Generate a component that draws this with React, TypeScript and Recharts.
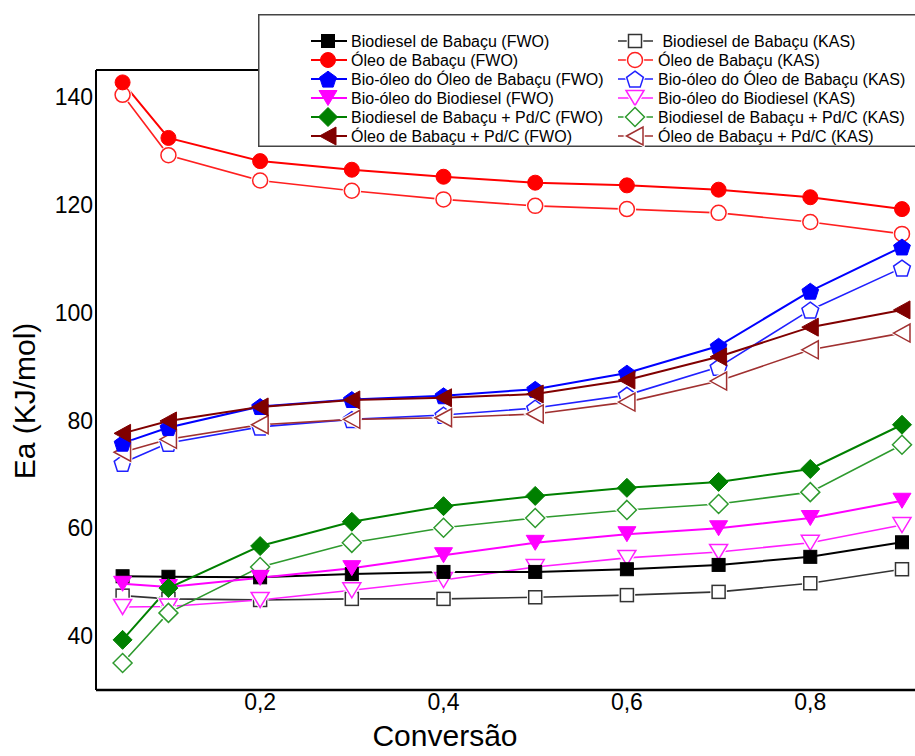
import React from 'react';
import { LineChart, Line, XAxis, YAxis, ReferenceLine, Legend, Label } from 'recharts';

const conversion = [0.05, 0.1, 0.2, 0.3, 0.4, 0.5, 0.6, 0.7, 0.8, 0.9];
const xTicks = [0.2, 0.4, 0.6, 0.8];
const yTicks = [40, 60, 80, 100, 120, 140];

const biodieselFWO = [51.1, 51.0, 50.9, 51.5, 51.9, 51.9, 52.4, 53.2, 54.7, 57.4];
const biodieselKAS = [47.5, 46.9, 46.7, 46.9, 46.9, 47.2, 47.6, 48.2, 49.8, 52.4];
const oleoFWO = [142.7, 132.4, 128.1, 126.5, 125.2, 124.1, 123.6, 122.8, 121.4, 119.2];
const oleoKAS = [140.4, 129.2, 124.5, 122.6, 121.0, 119.8, 119.2, 118.5, 116.8, 114.6];
const bioOleoOleoFWO = [75.8, 78.7, 82.6, 83.9, 84.6, 85.8, 88.8, 93.8, 104.0, 112.2];
const bioOleoOleoKAS = [72.1, 75.8, 78.8, 80.2, 81.0, 82.3, 84.7, 89.9, 100.5, 108.3];
const bioOleoBioFWO = [49.7, 49.1, 50.8, 52.6, 55.0, 57.3, 58.9, 60.0, 61.9, 65.1];
const bioOleoBioKAS = [45.4, 45.5, 46.7, 48.5, 50.4, 52.8, 54.5, 55.6, 57.3, 60.6];
const biodieselPdFWO = [39.3, 48.9, 56.7, 61.2, 64.1, 66.0, 67.5, 68.6, 71.0, 79.2];
const biodieselPdKAS = [35.0, 44.3, 52.8, 57.3, 60.1, 61.9, 63.4, 64.5, 66.7, 75.5];
const oleoPdFWO = [77.6, 79.9, 82.5, 83.8, 84.2, 84.9, 87.5, 91.8, 97.3, 100.5];
const oleoPdKAS = [74.1, 76.5, 79.2, 80.2, 80.5, 81.2, 83.4, 87.3, 93.1, 96.2];

type Shape = 'square' | 'circle' | 'pentagon' | 'triangleDown' | 'diamond' | 'triangleLeft';

interface Series {
  key: string;
  name: string;
  values: number[];
  color: string;
  shape: Shape;
  filled: boolean;
}

const fwoSeries: Series[] = [
  { key: 'bdFWO', name: 'Biodiesel de Babaçu (FWO)', values: biodieselFWO, color: '#000000', shape: 'square', filled: true },
  { key: 'olFWO', name: 'Óleo de Babaçu (FWO)', values: oleoFWO, color: '#FF0000', shape: 'circle', filled: true },
  { key: 'booFWO', name: 'Bio-óleo do Óleo de Babaçu (FWO)', values: bioOleoOleoFWO, color: '#0000FF', shape: 'pentagon', filled: true },
  { key: 'bobFWO', name: 'Bio-óleo do Biodiesel (FWO)', values: bioOleoBioFWO, color: '#FF00FF', shape: 'triangleDown', filled: true },
  { key: 'bdpFWO', name: 'Biodiesel de Babaçu + Pd/C (FWO)', values: biodieselPdFWO, color: '#008000', shape: 'diamond', filled: true },
  { key: 'olpFWO', name: 'Óleo de Babaçu + Pd/C (FWO)', values: oleoPdFWO, color: '#800000', shape: 'triangleLeft', filled: true },
];

const kasSeries: Series[] = [
  { key: 'bdKAS', name: ' Biodiesel de Babaçu (KAS)', values: biodieselKAS, color: '#333333', shape: 'square', filled: false },
  { key: 'olKAS', name: 'Óleo de Babaçu (KAS)', values: oleoKAS, color: '#FF2020', shape: 'circle', filled: false },
  { key: 'booKAS', name: 'Bio-óleo do Óleo de Babaçu (KAS)', values: bioOleoOleoKAS, color: '#2020FF', shape: 'pentagon', filled: false },
  { key: 'bobKAS', name: 'Bio-óleo do Biodiesel (KAS)', values: bioOleoBioKAS, color: '#FF20FF', shape: 'triangleDown', filled: false },
  { key: 'bdpKAS', name: 'Biodiesel de Babaçu + Pd/C (KAS)', values: biodieselPdKAS, color: '#2E9A2E', shape: 'diamond', filled: false },
  { key: 'olpKAS', name: 'Óleo de Babaçu + Pd/C (KAS)', values: oleoPdKAS, color: '#A03030', shape: 'triangleLeft', filled: false },
];

const allSeries = [...kasSeries, ...fwoSeries];

const data = conversion.map((c, i) => {
  const row: Record<string, number> = { x: c };
  allSeries.forEach((s) => {
    row[s.key] = s.values[i];
  });
  return row;
});

const FONT = '"Liberation Sans", Arial, Helvetica, sans-serif';

function shapeElement(shape: Shape, cx: number, cy: number, props: any) {
  switch (shape) {
    case 'square':
      return <rect x={cx - 6.5} y={cy - 6.5} width={13} height={13} {...props} />;
    case 'circle':
      return <circle cx={cx} cy={cy} r={7.5} {...props} />;
    case 'pentagon': {
      const r = 8.8;
      const pts = [0, 1, 2, 3, 4]
        .map((k) => {
          const a = ((-90 + 72 * k) * Math.PI) / 180;
          return `${cx + r * Math.cos(a)},${cy + 1 + r * Math.sin(a)}`;
        })
        .join(' ');
      return <polygon points={pts} {...props} />;
    }
    case 'triangleDown':
      return <polygon points={`${cx - 9},${cy - 7.5} ${cx + 9},${cy - 7.5} ${cx},${cy + 7.5}`} {...props} />;
    case 'diamond':
      return <polygon points={`${cx},${cy - 9.5} ${cx + 9.5},${cy} ${cx},${cy + 9.5} ${cx - 9.5},${cy}`} {...props} />;
    case 'triangleLeft':
      return <polygon points={`${cx - 8.5},${cy} ${cx + 8},${cy - 9} ${cx + 8},${cy + 9}`} {...props} />;
    default:
      return null;
  }
}

function marker(s: Series, cx: number, cy: number, key: string) {
  if (s.filled) {
    return <g key={key}>{shapeElement(s.shape, cx, cy, { fill: s.color, stroke: s.color, strokeWidth: 1 })}</g>;
  }
  return (
    <g key={key}>
      {shapeElement(s.shape, cx, cy, { fill: '#fff', stroke: '#fff', strokeWidth: 3.5 })}
      {shapeElement(s.shape, cx, cy, { fill: '#fff', stroke: s.color, strokeWidth: 1.5 })}
    </g>
  );
}

const rowY = [27, 46, 65, 84, 103, 122];

function renderLegend() {
  return (
    <svg width={680} height={134} style={{ display: 'block' }}>
      <rect x={0.75} y={0.75} width={700} height={131.5} fill="#fff" stroke="#444" strokeWidth={1.5} />
      {fwoSeries.map((s, i) => (
        <g key={s.key}>
          <line x1={53} x2={89} y1={rowY[i]} y2={rowY[i]} stroke={s.color} strokeWidth={2} />
          {marker(s, 70, rowY[i], s.key + 'm')}
          <text x={93} y={rowY[i] + 5.6} fontSize={16} fontFamily={FONT} fill="#000">
            {s.name}
          </text>
        </g>
      ))}
      {kasSeries.map((s, i) => (
        <g key={s.key}>
          <line x1={360} x2={395} y1={rowY[i]} y2={rowY[i]} stroke={s.color} strokeWidth={1.6} />
          {marker(s, 377, rowY[i], s.key + 'm')}
          <text x={400} y={rowY[i] + 5.6} fontSize={16} fontFamily={FONT} fill="#000" style={{ whiteSpace: 'pre' }}>
            {s.name}
          </text>
        </g>
      ))}
    </svg>
  );
}

const fmt = (v: number) => v.toFixed(1).replace('.', ',');

export default function App() {
  return (
    <div style={{ position: 'absolute', left: 0, top: 0, width: 915, height: 756, overflow: 'hidden', background: '#fff' }}>
      <LineChart width={960} height={756} data={data} margin={{ top: 70, right: 25, bottom: 0, left: 36 }}>
        <XAxis
          dataKey="x"
          type="number"
          domain={[0.021, 0.936]}
          allowDataOverflow
          ticks={xTicks}
          tickFormatter={fmt}
          axisLine={{ stroke: '#000', strokeWidth: 2.5 }}
          tickLine={false}
          tickSize={2}
          tickMargin={2}
          height={66}
          tick={{ fontSize: 23, fill: '#000', fontFamily: FONT }}
        >
          <Label
            content={() => (
              <text x={445} y={746} textAnchor="middle" fontSize={30} fontFamily={FONT} fill="#000">
                Conversão
              </text>
            )}
          />
        </XAxis>
        <YAxis
          type="number"
          domain={[30, 145]}
          allowDataOverflow
          ticks={yTicks}
          width={60}
          axisLine={{ stroke: '#000', strokeWidth: 2 }}
          tickLine={false}
          tickSize={3}
          tickMargin={0}
          tick={{ fontSize: 23, fill: '#000', fontFamily: FONT }}
        >
          <Label
            content={() => (
              <text
                x={35}
                y={401}
                transform="rotate(-90 35 401)"
                textAnchor="middle"
                fontSize={30}
                fontFamily={FONT}
                fill="#000"
              >
                Ea (KJ/mol)
              </text>
            )}
          />
        </YAxis>
        <ReferenceLine y={145} stroke="#000" strokeWidth={2} />
        {allSeries.map((s) => (
          <Line
            key={s.key}
            dataKey={s.key}
            name={s.name}
            type="linear"
            stroke={s.color}
            strokeWidth={s.filled ? 2 : 1.6}
            isAnimationActive={false}
            activeDot={false}
            dot={(p: any) => marker(s, p.cx, p.cy, `${s.key}-${p.index}`)}
          />
        ))}
        <Legend
          layout="vertical"
          align="center"
          verticalAlign="middle"
          content={renderLegend}
          wrapperStyle={{ left: 258, top: 14, width: 680, height: 134 }}
        />
      </LineChart>
    </div>
  );
}
